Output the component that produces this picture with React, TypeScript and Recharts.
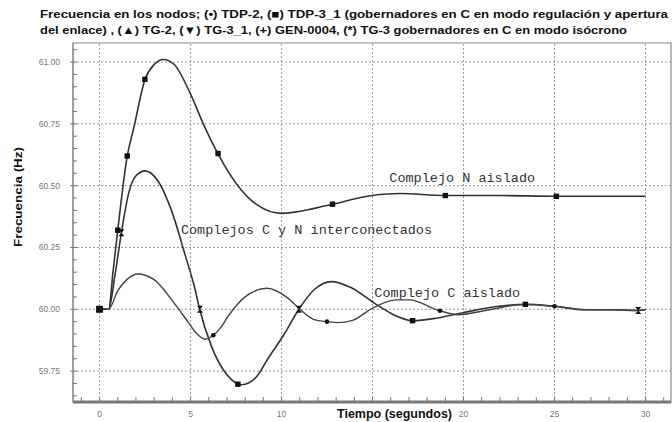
import React from 'react';
import {
  ComposedChart, Line, Scatter, XAxis, YAxis, ReferenceLine, ReferenceArea, ReferenceDot,
} from 'recharts';

// Complejo N aislado
const timeN = [0, 0.5, 0.75, 1.0, 1.5, 1.9, 2.5, 3.0, 3.5, 4.1, 5.0, 5.7, 6.5, 7.6, 8.7, 10.0, 11.8, 12.8, 15.0, 16.5, 19.0, 22.0, 25.0, 30.0];
const freqN = [60.0, 60.0, 60.16, 60.32, 60.61, 60.74, 60.93, 60.99, 61.01, 60.99, 60.87, 60.75, 60.63, 60.5, 60.42, 60.388, 60.408, 60.425, 60.46, 60.468, 60.46, 60.46, 60.457, 60.457];

// Complejos C y N interconectados
const timeCN = [0, 0.5, 0.85, 1.2, 1.6, 2.0, 2.5, 3.2, 3.95, 4.7, 5.25, 5.5, 6.15, 7.0, 7.8, 8.6, 9.25, 10.15, 10.95, 11.8, 12.75, 13.75, 15.2, 16.1, 17.2, 18.5, 19.9, 21.8, 23.4, 25.0, 26.7, 28.2, 29.6, 30.0];
const freqCN = [60.0, 60.0, 60.14, 60.31, 60.47, 60.54, 60.56, 60.52, 60.4, 60.22, 60.08, 60.0, 59.85, 59.735, 59.695, 59.725, 59.8, 59.9, 60.0, 60.08, 60.112, 60.09, 60.02, 59.98, 59.954, 59.964, 59.985, 60.011, 60.02, 60.012, 59.998, 59.998, 59.995, 59.998];

// Complejo C aislado
const timeC = [0, 0.5, 1.0, 1.5, 2.1, 3.0, 4.1, 4.9, 5.3, 5.8, 6.25, 6.7, 7.05, 8.0, 9.2, 10.35, 11.0, 11.8, 12.5, 13.1, 13.9, 15.0, 16.3, 17.0, 18.7, 19.7, 21.2, 23.4, 25.0, 26.7, 28.2, 29.6, 30.0];
const freqC = [60.0, 60.0, 60.075, 60.12, 60.143, 60.12, 60.025, 59.945, 59.905, 59.879, 59.895, 59.93, 59.97, 60.05, 60.085, 60.045, 60.0, 59.958, 59.95, 59.946, 59.955, 60.005, 60.038, 60.038, 59.994, 59.978, 59.995, 60.02, 60.012, 59.998, 59.998, 59.995, 59.998];

// markers
const squareT = [1.0, 1.52, 2.49, 6.51, 12.8, 19.0, 25.1, 7.6, 17.2, 23.4];
const squareF = [60.32, 60.62, 60.93, 60.63, 60.425, 60.46, 60.457, 59.697, 59.954, 60.02];
const startT = [0];
const startF = [60.0];
const triT = [1.2, 5.52, 10.95, 29.6];
const triF = [60.31, 60.0, 60.0, 59.995];
const dotT = [6.25, 12.5, 18.7, 25.0];
const dotF = [59.895, 59.95, 59.994, 60.012];

const xMajorTicks = [0, 5, 10, 15, 20, 25, 30];
const xAllTicks = [-1, 0, 1, 2, 3, 4, 5, 6, 7, 8, 9, 10, 11, 12, 13, 14, 15, 16, 17, 18, 19, 20, 21, 22, 23, 24, 25, 26, 27, 28, 29, 30, 31];
const yMajorTicks = [59.75, 60.0, 60.25, 60.5, 60.75, 61.0];
const yAllTicks = [59.65, 59.7, 59.75, 59.8, 59.85, 59.9, 59.95, 60.0, 60.05, 60.1, 60.15, 60.2, 60.25, 60.3, 60.35, 60.4, 60.45, 60.5, 60.55, 60.6, 60.65, 60.7, 60.75, 60.8, 60.85, 60.9, 60.95, 61.0, 61.05];

const X_MIN = -1.46;
const X_MAX = 31.4;
const Y_MIN = 59.625;
const Y_MAX = 61.077;

const toPoints = (ts: number[], fs: number[]) => ts.map((t, i) => ({ t, f: fs[i] }));

const AXIS_FONT = "'Liberation Sans', Arial, sans-serif";
const MONO = "'Liberation Mono', 'Courier New', monospace";

const XTick = ({ x, y, payload }: any) => {
  const v = payload.value;
  const major = xMajorTicks.includes(v);
  return (
    <g>
      <line x1={x} x2={x} y1={y - 5} y2={y} stroke="#777" />
      {major && v !== 15 && (
        <text x={x} y={y + 15} textAnchor="middle" fontSize={8.5} fill="#777" fontFamily={AXIS_FONT}>
          {v}
        </text>
      )}
    </g>
  );
};

const YTick = ({ x, y, payload }: any) => {
  const v = payload.value;
  const major = yMajorTicks.some((m) => Math.abs(m - v) < 1e-6);
  return (
    <g>
      <line x1={major ? x - 3 : x} x2={x + 4} y1={y} y2={y} stroke="#777" />
      {major && (
        <text x={x - 13} y={y + 3} textAnchor="end" fontSize={8.5} fill="#777" fontFamily={AXIS_FONT}>
          {v.toFixed(2)}
        </text>
      )}
    </g>
  );
};

const SquareMark = ({ cx, cy }: any) => <rect x={cx - 2.7} y={cy - 2.7} width={5.4} height={5.4} fill="#111" />;
const StartMark = ({ cx, cy }: any) => <rect x={cx - 3.5} y={cy - 3.5} width={7} height={7} fill="#111" />;
const TriMark = ({ cx, cy }: any) => (
  <path d={`M${cx - 3},${cy - 3.5}L${cx + 3},${cy - 3.5}L${cx - 3},${cy + 3.5}L${cx + 3},${cy + 3.5}Z`} fill="#111" />
);
const DotMark = ({ cx, cy }: any) => <circle cx={cx} cy={cy} r={2.3} fill="#111" />;

const labelStyle = { fontFamily: MONO, fontSize: 13.5, fill: '#333' };

export default function App() {
  return (
    <div style={{ position: 'absolute', left: 0, top: 0, width: 672, height: 422, background: '#fff' }}>
      <ComposedChart width={672} height={422} margin={{ top: 43, right: 1, bottom: 0, left: 0 }}>
        <XAxis
          type="number"
          dataKey="t"
          domain={[X_MIN, X_MAX]}
          ticks={xAllTicks}
          interval={0}
          allowDataOverflow
          height={20}
          tickSize={0}
          tickMargin={0}
          tickLine={false}
          tick={<XTick />}
          axisLine={{ stroke: '#777', strokeWidth: 3 }}
        />
        <YAxis
          type="number"
          dataKey="f"
          domain={[Y_MIN, Y_MAX]}
          ticks={yAllTicks}
          interval={0}
          allowDataOverflow
          width={73}
          tickSize={0}
          tickMargin={0}
          tickLine={false}
          tick={<YTick />}
          axisLine={{ stroke: '#888' }}
        />
        <ReferenceArea x1={X_MIN} x2={X_MAX} y1={Y_MIN} y2={Y_MAX} fill="none" stroke="#888" strokeWidth={1.2} />
        {yMajorTicks.map((v) => (
          <ReferenceLine key={`y${v}`} y={v} stroke="#999" strokeDasharray="2 2" />
        ))}
        {xMajorTicks.map((v) => (
          <ReferenceLine key={`x${v}`} x={v} stroke="#999" strokeDasharray="2 2" />
        ))}
        <Line data={toPoints(timeN, freqN)} dataKey="f" type="monotone" stroke="#333" strokeWidth={1.6} dot={false} isAnimationActive={false} />
        <Line data={toPoints(timeCN, freqCN)} dataKey="f" type="monotone" stroke="#333" strokeWidth={1.6} dot={false} isAnimationActive={false} />
        <Line data={toPoints(timeC, freqC)} dataKey="f" type="monotone" stroke="#444" strokeWidth={1.4} dot={false} isAnimationActive={false} />
        <Scatter data={toPoints(squareT, squareF)} dataKey="f" shape={SquareMark} isAnimationActive={false} />
        <Scatter data={toPoints(startT, startF)} dataKey="f" shape={StartMark} isAnimationActive={false} />
        <Scatter data={toPoints(triT, triF)} dataKey="f" shape={TriMark} isAnimationActive={false} />
        <Scatter data={toPoints(dotT, dotF)} dataKey="f" shape={DotMark} isAnimationActive={false} />
        <ReferenceDot x={15.92} y={60.535} r={0} stroke="none" label={{ value: 'Complejo N aislado', position: 'right', offset: 0, ...labelStyle }} />
        <ReferenceDot x={4.47} y={60.323} r={0} stroke="none" label={{ value: 'Complejos C y N interconectados', position: 'right', offset: 0, ...labelStyle }} />
        <ReferenceDot x={15.1} y={60.07} r={0} stroke="none" label={{ value: 'Complejo C aislado', position: 'right', offset: 0, ...labelStyle }} />
      </ComposedChart>
      <svg width={672} height={422} style={{ position: 'absolute', left: 0, top: 0, pointerEvents: 'none' }}>
        <g fontFamily={AXIS_FONT} fontWeight="bold" fill="#111">
          <text x={40} y={17.5} fontSize={11.5} textLength={628} lengthAdjust="spacingAndGlyphs">
            Frecuencia en los nodos; (•) TDP-2, (■) TDP-3_1 (gobernadores en C en modo regulación y apertura
          </text>
          <text x={40} y={34} fontSize={11.5} textLength={587} lengthAdjust="spacingAndGlyphs">
            del enlace) , (▲) TG-2, (▼) TG-3_1, (+) GEN-0004, (*) TG-3 gobernadores en C en modo isócrono
          </text>
          <text x={337} y={418} fontSize={12} textLength={115} lengthAdjust="spacingAndGlyphs">
            Tiempo (segundos)
          </text>
          <text
            transform="translate(22,197) rotate(-90)"
            textAnchor="middle"
            fontSize={11.5}
            textLength={100}
            lengthAdjust="spacingAndGlyphs"
          >
            Frecuencia (Hz)
          </text>
        </g>
      </svg>
    </div>
  );
}
